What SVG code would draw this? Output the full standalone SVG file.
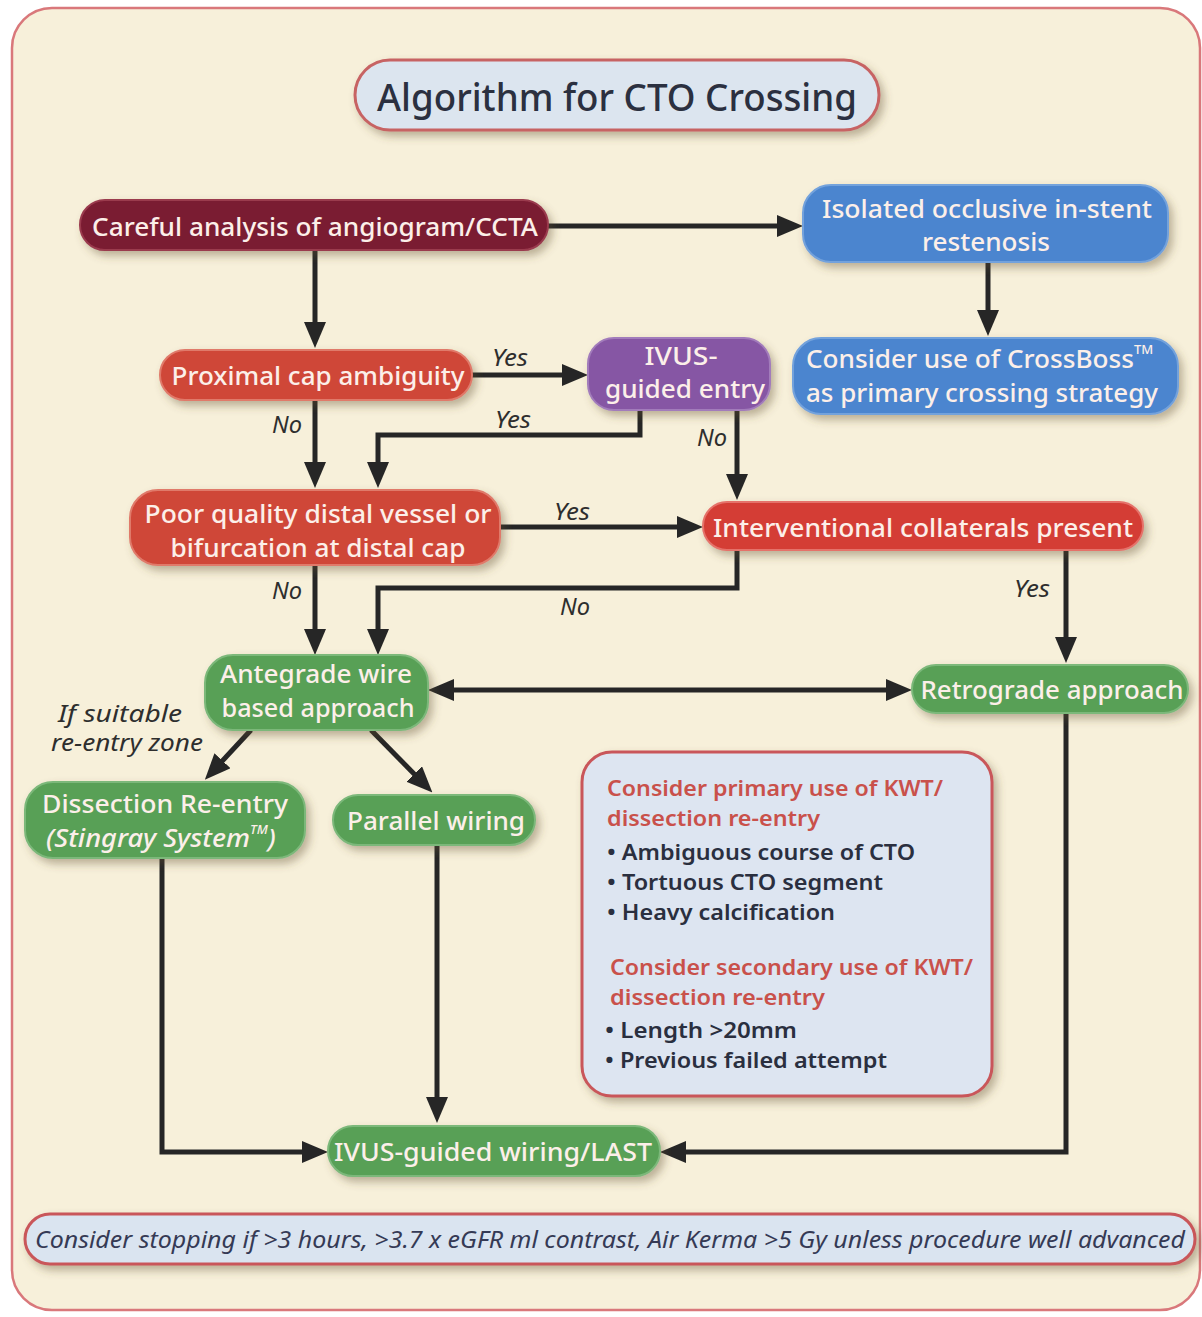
<svg xmlns="http://www.w3.org/2000/svg" width="1202" height="1317" viewBox="0 0 1202 1317">
<defs>
<filter id="sh" x="-10%" y="-30%" width="125%" height="170%">
<feDropShadow dx="4" dy="5" stdDeviation="4" flood-color="#5e4e30" flood-opacity="0.4"/>
</filter>
<marker id="ah" viewBox="0 0 26 22" refX="14" refY="11" markerWidth="26" markerHeight="22" markerUnits="userSpaceOnUse" orient="auto-start-reverse">
<path d="M0,0 L26,11 L0,22 z" fill="#262626"/>
</marker>
</defs>
<style>
.nt{font-family:"Noto Sans","Open Sans",sans-serif;font-size:26px;font-weight:500;fill:#fcefe9;text-anchor:middle;dominant-baseline:central}
.lb{font-family:"Noto Sans","Open Sans",sans-serif;font-size:23px;font-style:italic;fill:#2e2e2e;text-anchor:middle;dominant-baseline:central}
.maroon{fill:#7a1a31;stroke:#9a3a4e;stroke-width:2}
.red{fill:#cf4638;stroke:#e07a6a;stroke-width:2}
.purple{fill:#8657a4;stroke:#a27bbb;stroke-width:2}
.blue{fill:#4b85cf;stroke:#73a2dc;stroke-width:2}
.green{fill:#58a057;stroke:#7cb87a;stroke-width:2}
.ib{font-family:"Noto Sans","Open Sans",sans-serif;font-size:22px;font-weight:600;dominant-baseline:central}
.ibh{fill:#c9514b}
.ibt{fill:#2a2f3f}
#connectors path{fill:none;stroke:#262626;stroke-width:5}
</style>
<rect x="0" y="0" width="1202" height="1317" fill="#ffffff"/>
<rect id="frame" x="12" y="8" width="1188" height="1302" rx="40" fill="#f7f0da" stroke="#d9787b" stroke-width="2.5"/>

<g id="title">
<rect x="355" y="60" width="524" height="70" rx="35" fill="#dce5ef" stroke="#c76364" stroke-width="3" filter="url(#sh)"/>
<text x="617" y="96" font-family="Noto Sans, Open Sans, sans-serif" font-size="38" font-weight="500" fill="#2b3040" text-anchor="middle" dominant-baseline="central" textLength="480" lengthAdjust="spacingAndGlyphs">Algorithm for CTO Crossing</text>
</g>

<g id="connectors">
<path d="M315,250 V336" marker-end="url(#ah)"/>
<path d="M548,226 H791" marker-end="url(#ah)"/>
<path d="M988,262 V324" marker-end="url(#ah)"/>
<path d="M472,375 H576" marker-end="url(#ah)"/>
<path d="M315,400 V476" marker-end="url(#ah)"/>
<path d="M640,410 V435 H378 V476" marker-end="url(#ah)"/>
<path d="M737,410 V488" marker-end="url(#ah)"/>
<path d="M500,527 H691" marker-end="url(#ah)"/>
<path d="M315,565 V643" marker-end="url(#ah)"/>
<path d="M737,550 V588 H378 V643" marker-end="url(#ah)"/>
<path d="M1066,550 V651" marker-end="url(#ah)"/>
<path d="M440,690 H900" marker-start="url(#ah)" marker-end="url(#ah)"/>
<path d="M251,730 L213,771" marker-end="url(#ah)"/>
<path d="M371,730 L424,784" marker-end="url(#ah)"/>
<path d="M162,858 V1152 H316" marker-end="url(#ah)"/>
<path d="M437,845 V1111" marker-end="url(#ah)"/>
<path d="M1066,713 V1152 H672" marker-end="url(#ah)"/>
<text class="lb" x="510" y="357" textLength="36" lengthAdjust="spacingAndGlyphs">Yes</text>
<text class="lb" x="287" y="424" textLength="30" lengthAdjust="spacingAndGlyphs">No</text>
<text class="lb" x="513" y="419" textLength="36" lengthAdjust="spacingAndGlyphs">Yes</text>
<text class="lb" x="712" y="437" textLength="30" lengthAdjust="spacingAndGlyphs">No</text>
<text class="lb" x="572" y="511" textLength="36" lengthAdjust="spacingAndGlyphs">Yes</text>
<text class="lb" x="287" y="590" textLength="30" lengthAdjust="spacingAndGlyphs">No</text>
<text class="lb" x="575" y="606" textLength="30" lengthAdjust="spacingAndGlyphs">No</text>
<text class="lb" x="1032" y="588" textLength="36" lengthAdjust="spacingAndGlyphs">Yes</text>
<text class="lb" x="120" y="713" font-size="26" textLength="124" lengthAdjust="spacingAndGlyphs">If suitable</text>
<text class="lb" x="127" y="742" font-size="26" textLength="152" lengthAdjust="spacingAndGlyphs">re-entry zone</text>
</g>

<g id="n-careful">
<rect class="maroon" x="80" y="200" width="468" height="50" rx="25" filter="url(#sh)"/>
<text class="nt" x="315" y="226" textLength="446" lengthAdjust="spacingAndGlyphs">Careful analysis of angiogram/CCTA</text>
</g>

<g id="n-isr">
<rect class="blue" x="803" y="185" width="365" height="77" rx="28" filter="url(#sh)"/>
<text class="nt" x="987" y="208" textLength="330" lengthAdjust="spacingAndGlyphs">Isolated occlusive in-stent</text>
<text class="nt" x="986" y="241" textLength="128" lengthAdjust="spacingAndGlyphs">restenosis</text>
</g>

<g id="n-crossboss">
<rect class="blue" x="793" y="338" width="385" height="76" rx="28" filter="url(#sh)"/>
<text class="nt" x="806" y="358" style="text-anchor:start"><tspan textLength="328" lengthAdjust="spacingAndGlyphs">Consider use of CrossBoss</tspan><tspan font-size="13" dy="-9">TM</tspan></text>
<text class="nt" x="982" y="392" textLength="352" lengthAdjust="spacingAndGlyphs">as primary crossing strategy</text>
</g>

<g id="n-proximal">
<rect class="red" x="160" y="350" width="312" height="50" rx="25" filter="url(#sh)"/>
<text class="nt" x="318" y="375" textLength="293" lengthAdjust="spacingAndGlyphs">Proximal cap ambiguity</text>
</g>

<g id="n-ivus-entry">
<rect class="purple" x="588" y="338" width="182" height="72" rx="26" filter="url(#sh)"/>
<text class="nt" x="681" y="355" textLength="73" lengthAdjust="spacingAndGlyphs">IVUS-</text>
<text class="nt" x="685" y="388" textLength="160" lengthAdjust="spacingAndGlyphs">guided entry</text>
</g>

<g id="n-poor">
<rect class="red" x="130" y="490" width="370" height="75" rx="28" filter="url(#sh)"/>
<text class="nt" x="318" y="513" textLength="347" lengthAdjust="spacingAndGlyphs">Poor quality distal vessel or</text>
<text class="nt" x="318" y="547" textLength="295" lengthAdjust="spacingAndGlyphs">bifurcation at distal cap</text>
</g>

<g id="n-collaterals">
<rect x="703" y="502" width="440" height="48" rx="24" fill="#d43c35" stroke="#e5726a" stroke-width="2" filter="url(#sh)"/>
<text class="nt" x="923" y="527" textLength="420" lengthAdjust="spacingAndGlyphs">Interventional collaterals present</text>
</g>

<g id="n-antegrade">
<rect class="green" x="205" y="655" width="223" height="75" rx="28" filter="url(#sh)"/>
<text class="nt" x="316" y="673" textLength="192" lengthAdjust="spacingAndGlyphs">Antegrade wire</text>
<text class="nt" x="318" y="707" textLength="193" lengthAdjust="spacingAndGlyphs">based approach</text>
</g>

<g id="n-retrograde">
<rect class="green" x="912" y="665" width="276" height="48" rx="24" filter="url(#sh)"/>
<text class="nt" x="1052" y="689" textLength="263" lengthAdjust="spacingAndGlyphs">Retrograde approach</text>
</g>

<g id="n-dissection">
<rect class="green" x="25" y="782" width="280" height="76" rx="28" filter="url(#sh)"/>
<text class="nt" x="165" y="803" textLength="246" lengthAdjust="spacingAndGlyphs">Dissection Re-entry</text>
<text class="nt" x="46" y="837" font-size="24" style="text-anchor:start;font-style:italic"><tspan textLength="204" lengthAdjust="spacingAndGlyphs">(Stingray System</tspan><tspan font-size="13" dy="-8">TM</tspan><tspan dy="8">)</tspan></text>
</g>

<g id="n-parallel">
<rect class="green" x="333" y="795" width="202" height="50" rx="25" filter="url(#sh)"/>
<text class="nt" x="436" y="820" textLength="178" lengthAdjust="spacingAndGlyphs">Parallel wiring</text>
</g>

<g id="n-info">
<rect x="582" y="752" width="410" height="344" rx="30" fill="#dde5f1" stroke="#c9575a" stroke-width="3" filter="url(#sh)"/>
<text class="ib ibh" x="607" y="787" textLength="336" lengthAdjust="spacingAndGlyphs">Consider primary use of KWT/</text>
<text class="ib ibh" x="607" y="817" textLength="213" lengthAdjust="spacingAndGlyphs">dissection re-entry</text>
<text class="ib ibt" x="607" y="851" textLength="308" lengthAdjust="spacingAndGlyphs">• Ambiguous course of CTO</text>
<text class="ib ibt" x="607" y="881" textLength="276" lengthAdjust="spacingAndGlyphs">• Tortuous CTO segment</text>
<text class="ib ibt" x="607" y="911" textLength="228" lengthAdjust="spacingAndGlyphs">• Heavy calcification</text>
<text class="ib ibh" x="610" y="966" textLength="363" lengthAdjust="spacingAndGlyphs">Consider secondary use of KWT/</text>
<text class="ib ibh" x="610" y="996" textLength="215" lengthAdjust="spacingAndGlyphs">dissection re-entry</text>
<text class="ib ibt" x="605" y="1029" textLength="192" lengthAdjust="spacingAndGlyphs">• Length &gt;20mm</text>
<text class="ib ibt" x="605" y="1059" textLength="282" lengthAdjust="spacingAndGlyphs">• Previous failed attempt</text>
</g>

<g id="n-ivus-wiring">
<rect class="green" x="328" y="1126" width="332" height="50" rx="25" filter="url(#sh)"/>
<text class="nt" x="493" y="1151" textLength="318" lengthAdjust="spacingAndGlyphs">IVUS-guided wiring/LAST</text>
</g>

<g id="n-stop">
<rect x="25" y="1214" width="1170" height="50" rx="25" fill="#dae4f0" stroke="#c9575a" stroke-width="3" filter="url(#sh)"/>
<text x="610" y="1239" font-family="Noto Sans, Open Sans, sans-serif" font-size="23" font-style="italic" fill="#353a55" text-anchor="middle" dominant-baseline="central" textLength="1150" lengthAdjust="spacingAndGlyphs">Consider stopping if &gt;3 hours, &gt;3.7 x eGFR ml contrast, Air Kerma &gt;5 Gy unless procedure well advanced</text>
</g>
</svg>
